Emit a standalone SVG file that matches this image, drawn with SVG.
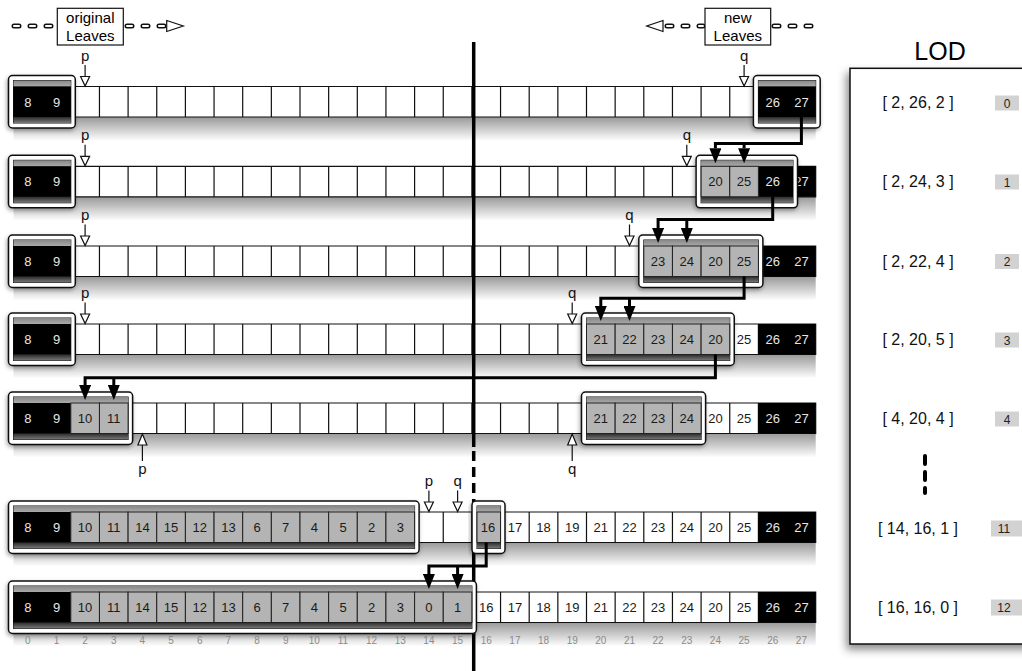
<svg xmlns="http://www.w3.org/2000/svg" width="1022" height="671" viewBox="0 0 1022 671">
<style>
text{font-family:"Liberation Sans",Arial,Helvetica,sans-serif}
.t{font-size:13px;text-anchor:middle}
.lt{fill:#e6e6e6}
.dt{fill:#1a1a1a}
.pq{font-size:15px;text-anchor:middle;fill:#111}
.bo{fill:#fff;stroke:#111;stroke-width:1.5;filter:url(#ds)}
.bi{fill:#444;stroke:#111;stroke-width:1}
.ts{fill:url(#tsg)}
.bs{fill:url(#bsg)}
.k{fill:#000}
.g{fill:#b4b4b4;stroke:#222;stroke-width:1}
.sh{fill:url(#shg)}
.mk{fill:#fff;stroke:#111;stroke-width:1.2}
.cn{fill:none;stroke:#000;stroke-width:3;marker-end:url(#ah)}
.idx{font-size:10px;text-anchor:middle;fill:#8a8a8a}
.lod{font-size:16px;text-anchor:middle;fill:#111}
.lb{fill:#d2d2d2}
.ln{font-size:12px;text-anchor:middle;fill:#222}
.dk{fill:none;stroke:#111;stroke-width:5;stroke-linecap:round;stroke-dasharray:5 11}
.dw{fill:none;stroke:#fff;stroke-width:2;stroke-linecap:round;stroke-dasharray:5 11}
</style>
<defs>
<linearGradient id="shg" x1="0" y1="0" x2="0" y2="1"><stop offset="0" stop-color="#000" stop-opacity="0.4"/><stop offset="1" stop-color="#000" stop-opacity="0"/></linearGradient>
<linearGradient id="bsg" x1="0" y1="0" x2="0" y2="1"><stop offset="0" stop-color="#2a2a2a"/><stop offset="1" stop-color="#7a7a7a"/></linearGradient>
<linearGradient id="tsg" x1="0" y1="0" x2="0" y2="1"><stop offset="0" stop-color="#888"/><stop offset="1" stop-color="#aaa"/></linearGradient>
<filter id="ds" x="-10%" y="-20%" width="120%" height="150%"><feDropShadow dx="-1" dy="2" stdDeviation="2" flood-color="#000" flood-opacity="0.35"/></filter>
<filter id="ps" x="-10%" y="-5%" width="120%" height="110%"><feDropShadow dx="-3" dy="5" stdDeviation="4" flood-color="#000" flood-opacity="0.45"/></filter>
<marker id="ah" viewBox="0 0 10 10" refX="0" refY="5" markerWidth="15" markerHeight="12" markerUnits="userSpaceOnUse" orient="auto" preserveAspectRatio="none"><path d="M0 0L10 5L0 10z" fill="#000"/></marker>
<path id="grid" d="M13.5 0H815.7V30.5H13.5Z M42.15 0v30.5M70.8 0v30.5M99.45 0v30.5M128.1 0v30.5M156.75 0v30.5M185.4 0v30.5M214.05 0v30.5M242.7 0v30.5M271.35 0v30.5M300 0v30.5M328.65 0v30.5M357.3 0v30.5M385.95 0v30.5M414.6 0v30.5M443.25 0v30.5M471.9 0v30.5M500.55 0v30.5M529.2 0v30.5M557.85 0v30.5M586.5 0v30.5M615.15 0v30.5M643.8 0v30.5M672.45 0v30.5M701.1 0v30.5M729.75 0v30.5M758.4 0v30.5M787.05 0v30.5" fill="#fff" stroke="#111" stroke-width="1.2"/>
<path id="ad" d="M0 -21.5V-10M-4.5 -10H4.5L0 -0.5Z" class="mk"/>
<path id="au" d="M0 58V42M-4.5 42H4.5L0 31Z" class="mk"/>
</defs>
<rect width="1022" height="671" fill="#fff"/>

<g id="legend-original">
<path class="dk" d="M14 26H55"/><path class="dw" d="M14 26H55"/>
<path class="dk" d="M127 26H164"/><path class="dw" d="M127 26H164"/>
<path d="M166.7 20.5L183.3 26L166.7 31.5Z" class="mk"/>
<rect x="57.3" y="8.3" width="66" height="36.7" fill="#fff" stroke="#111" stroke-width="1.2"/>
<text x="90.3" y="23" style="font-size:15px;text-anchor:middle">original</text>
<text x="90.3" y="41" style="font-size:15px;text-anchor:middle">Leaves</text>
</g>
<g id="legend-new">
<path class="dk" d="M667 26H703"/><path class="dw" d="M667 26H703"/>
<path class="dk" d="M774 26H813"/><path class="dw" d="M774 26H813"/>
<path d="M663 20.5L646.7 26L663 31.5Z" class="mk"/>
<rect x="705" y="8.3" width="65.7" height="36.7" fill="#fff" stroke="#111" stroke-width="1.2"/>
<text x="737.8" y="23" style="font-size:15px;text-anchor:middle">new</text>
<text x="737.8" y="41" style="font-size:15px;text-anchor:middle">Leaves</text>
</g>

<g id="row1" transform="translate(0,86.5)">
<rect class="sh" x="13.5" y="30.5" width="802.2" height="24"/>
<use href="#grid"/>
<g id="r1-a"><rect class="bo" x="8.5" y="-11" width="66.8" height="52.5" rx="4"/><rect class="bi" x="13.5" y="-6" width="57.3" height="42.5"/><rect class="ts" x="13.5" y="-6" width="57.3" height="6"/><rect class="bs" x="13.5" y="30.5" width="57.3" height="6"/><rect class="k" x="13.5" y="0" width="57.3" height="30.5"/><text class="t lt" x="27.8" y="20">8</text><text class="t lt" x="56.5" y="20">9</text></g>
<g id="r1-b"><rect class="bo" x="753.4" y="-11" width="66.8" height="52.5" rx="4"/><rect class="bi" x="758.4" y="-6" width="57.3" height="42.5"/><rect class="ts" x="758.4" y="-6" width="57.3" height="6"/><rect class="bs" x="758.4" y="30.5" width="57.3" height="6"/><rect class="k" x="758.4" y="0" width="57.3" height="30.5"/><text class="t lt" x="772.7" y="20">26</text><text class="t lt" x="801.4" y="20">27</text></g>
<text class="pq" x="85.1" y="-26">p</text><use href="#ad" x="85.1"/>
<text class="pq" x="744.1" y="-26">q</text><use href="#ad" x="744.1"/>
</g>

<g id="row2" transform="translate(0,166.3)">
<rect class="sh" x="13.5" y="30.5" width="802.2" height="24"/>
<use href="#grid"/>
<g id="r2-a"><rect class="bo" x="8.5" y="-11" width="66.8" height="52.5" rx="4"/><rect class="bi" x="13.5" y="-6" width="57.3" height="42.5"/><rect class="ts" x="13.5" y="-6" width="57.3" height="6"/><rect class="bs" x="13.5" y="30.5" width="57.3" height="6"/><rect class="k" x="13.5" y="0" width="57.3" height="30.5"/><text class="t lt" x="27.8" y="20">8</text><text class="t lt" x="56.5" y="20">9</text></g>
<rect class="k" x="787.05" y="0" width="28.65" height="30.5"/><text class="t lt" x="801.4" y="20">27</text>
<g id="r2-b"><rect class="bo" x="696.1" y="-11" width="101.4" height="52.5" rx="4"/><rect class="bi" x="701.1" y="-6" width="91.9" height="42.5"/><rect class="ts" x="701.1" y="-6" width="91.9" height="6"/><rect class="bs" x="701.1" y="30.5" width="91.9" height="6"/><rect class="k" x="758.4" y="0" width="34.6" height="30.5"/><rect class="g" x="701.1" y="0" width="28.65" height="30.5"/><rect class="g" x="729.75" y="0" width="28.65" height="30.5"/><text class="t dt" x="715.4" y="20">20</text><text class="t dt" x="744.1" y="20">25</text><text class="t lt" x="772.7" y="20">26</text></g>
<text class="pq" x="85.1" y="-26">p</text><use href="#ad" x="85.1"/>
<text class="pq" x="686.8" y="-26">q</text><use href="#ad" x="686.8"/>
</g>

<g id="row3" transform="translate(0,246)">
<rect class="sh" x="13.5" y="30.5" width="802.2" height="24"/>
<use href="#grid"/>
<g id="r3-a"><rect class="bo" x="8.5" y="-11" width="66.8" height="52.5" rx="4"/><rect class="bi" x="13.5" y="-6" width="57.3" height="42.5"/><rect class="ts" x="13.5" y="-6" width="57.3" height="6"/><rect class="bs" x="13.5" y="30.5" width="57.3" height="6"/><rect class="k" x="13.5" y="0" width="57.3" height="30.5"/><text class="t lt" x="27.8" y="20">8</text><text class="t lt" x="56.5" y="20">9</text></g>
<rect class="k" x="758.4" y="0" width="57.3" height="30.5"/><text class="t lt" x="772.7" y="20">26</text><text class="t lt" x="801.4" y="20">27</text>
<g id="r3-b"><rect class="bo" x="638.8" y="-11" width="124.1" height="52.5" rx="4"/><rect class="bi" x="643.8" y="-6" width="114.6" height="42.5"/><rect class="ts" x="643.8" y="-6" width="114.6" height="6"/><rect class="bs" x="643.8" y="30.5" width="114.6" height="6"/><rect class="g" x="643.8" y="0" width="28.65" height="30.5"/><rect class="g" x="672.45" y="0" width="28.65" height="30.5"/><rect class="g" x="701.1" y="0" width="28.65" height="30.5"/><rect class="g" x="729.75" y="0" width="28.65" height="30.5"/><text class="t dt" x="658.1" y="20">23</text><text class="t dt" x="686.8" y="20">24</text><text class="t dt" x="715.4" y="20">20</text><text class="t dt" x="744.1" y="20">25</text></g>
<text class="pq" x="85.1" y="-26">p</text><use href="#ad" x="85.1"/>
<text class="pq" x="629.5" y="-26">q</text><use href="#ad" x="629.5"/>
</g>

<g id="row4" transform="translate(0,324)">
<rect class="sh" x="13.5" y="30.5" width="802.2" height="24"/>
<use href="#grid"/>
<g id="r4-a"><rect class="bo" x="8.5" y="-11" width="66.8" height="52.5" rx="4"/><rect class="bi" x="13.5" y="-6" width="57.3" height="42.5"/><rect class="ts" x="13.5" y="-6" width="57.3" height="6"/><rect class="bs" x="13.5" y="30.5" width="57.3" height="6"/><rect class="k" x="13.5" y="0" width="57.3" height="30.5"/><text class="t lt" x="27.8" y="20">8</text><text class="t lt" x="56.5" y="20">9</text></g>
<text class="t dt" x="744.1" y="20">25</text>
<rect class="k" x="758.4" y="0" width="57.3" height="30.5"/><text class="t lt" x="772.7" y="20">26</text><text class="t lt" x="801.4" y="20">27</text>
<g id="r4-b"><rect class="bo" x="581.5" y="-11" width="152.75" height="52.5" rx="4"/><rect class="bi" x="586.5" y="-6" width="143.25" height="42.5"/><rect class="ts" x="586.5" y="-6" width="143.25" height="6"/><rect class="bs" x="586.5" y="30.5" width="143.25" height="6"/><rect class="g" x="586.5" y="0" width="28.65" height="30.5"/><rect class="g" x="615.15" y="0" width="28.65" height="30.5"/><rect class="g" x="643.8" y="0" width="28.65" height="30.5"/><rect class="g" x="672.45" y="0" width="28.65" height="30.5"/><rect class="g" x="701.1" y="0" width="28.65" height="30.5"/><text class="t dt" x="600.8" y="20">21</text><text class="t dt" x="629.5" y="20">22</text><text class="t dt" x="658.1" y="20">23</text><text class="t dt" x="686.8" y="20">24</text><text class="t dt" x="715.4" y="20">20</text></g>
<text class="pq" x="85.1" y="-26">p</text><use href="#ad" x="85.1"/>
<text class="pq" x="572.2" y="-26">q</text><use href="#ad" x="572.2"/>
</g>

<g id="row5" transform="translate(0,403)">
<rect class="sh" x="13.5" y="30.5" width="802.2" height="24"/>
<use href="#grid"/>
<g id="r5-a"><rect class="bo" x="8.5" y="-11" width="124.1" height="52.5" rx="4"/><rect class="bi" x="13.5" y="-6" width="114.6" height="42.5"/><rect class="ts" x="13.5" y="-6" width="114.6" height="6"/><rect class="bs" x="13.5" y="30.5" width="114.6" height="6"/><rect class="k" x="13.5" y="0" width="57.3" height="30.5"/><rect class="g" x="70.8" y="0" width="28.65" height="30.5"/><rect class="g" x="99.45" y="0" width="28.65" height="30.5"/><text class="t lt" x="27.8" y="20">8</text><text class="t lt" x="56.5" y="20">9</text><text class="t dt" x="85.1" y="20">10</text><text class="t dt" x="113.8" y="20">11</text></g>
<text class="t dt" x="715.4" y="20">20</text><text class="t dt" x="744.1" y="20">25</text>
<rect class="k" x="758.4" y="0" width="57.3" height="30.5"/><text class="t lt" x="772.7" y="20">26</text><text class="t lt" x="801.4" y="20">27</text>
<g id="r5-b"><rect class="bo" x="581.5" y="-11" width="124.1" height="52.5" rx="4"/><rect class="bi" x="586.5" y="-6" width="114.6" height="42.5"/><rect class="ts" x="586.5" y="-6" width="114.6" height="6"/><rect class="bs" x="586.5" y="30.5" width="114.6" height="6"/><rect class="g" x="586.5" y="0" width="28.65" height="30.5"/><rect class="g" x="615.15" y="0" width="28.65" height="30.5"/><rect class="g" x="643.8" y="0" width="28.65" height="30.5"/><rect class="g" x="672.45" y="0" width="28.65" height="30.5"/><text class="t dt" x="600.8" y="20">21</text><text class="t dt" x="629.5" y="20">22</text><text class="t dt" x="658.1" y="20">23</text><text class="t dt" x="686.8" y="20">24</text></g>
<use href="#au" x="142.4"/><text class="pq" x="142.4" y="71">p</text>
<use href="#au" x="572.2"/><text class="pq" x="572.2" y="71">q</text>
</g>

<g id="divider">
<path d="M473.7 42V447" stroke="#000" stroke-width="3.5" fill="none"/>
<path d="M473.7 451V500" stroke="#000" stroke-width="3.5" fill="none" stroke-dasharray="10 6"/>
<path d="M473.7 500V671" stroke="#000" stroke-width="3.5" fill="none"/>
</g>

<g id="row6" transform="translate(0,512)">
<rect class="sh" x="13.5" y="30.5" width="802.2" height="24"/>
<use href="#grid"/>
<g class="t dt"><text x="514.9" y="20">17</text><text x="543.5" y="20">18</text><text x="572.2" y="20">19</text><text x="600.8" y="20">21</text><text x="629.5" y="20">22</text><text x="658.1" y="20">23</text><text x="686.8" y="20">24</text><text x="715.4" y="20">20</text><text x="744.1" y="20">25</text></g>
<rect class="k" x="758.4" y="0" width="57.3" height="30.5"/><text class="t lt" x="772.7" y="20">26</text><text class="t lt" x="801.4" y="20">27</text>
<g id="r6-a"><rect class="bo" x="8.5" y="-11" width="410.6" height="52.5" rx="4"/><rect class="bi" x="13.5" y="-6" width="401.1" height="42.5"/><rect class="ts" x="13.5" y="-6" width="401.1" height="6"/><rect class="bs" x="13.5" y="30.5" width="401.1" height="6"/><rect class="k" x="13.5" y="0" width="57.3" height="30.5"/>
<rect class="g" x="70.8" y="0" width="28.65" height="30.5"/><rect class="g" x="99.45" y="0" width="28.65" height="30.5"/><rect class="g" x="128.1" y="0" width="28.65" height="30.5"/><rect class="g" x="156.75" y="0" width="28.65" height="30.5"/><rect class="g" x="185.4" y="0" width="28.65" height="30.5"/><rect class="g" x="214.05" y="0" width="28.65" height="30.5"/><rect class="g" x="242.7" y="0" width="28.65" height="30.5"/><rect class="g" x="271.35" y="0" width="28.65" height="30.5"/><rect class="g" x="300" y="0" width="28.65" height="30.5"/><rect class="g" x="328.65" y="0" width="28.65" height="30.5"/><rect class="g" x="357.3" y="0" width="28.65" height="30.5"/><rect class="g" x="385.95" y="0" width="28.65" height="30.5"/>
<text class="t lt" x="27.8" y="20">8</text><text class="t lt" x="56.5" y="20">9</text>
<g class="t dt"><text x="85.1" y="20">10</text><text x="113.8" y="20">11</text><text x="142.4" y="20">14</text><text x="171.1" y="20">15</text><text x="199.7" y="20">12</text><text x="228.4" y="20">13</text><text x="257" y="20">6</text><text x="285.7" y="20">7</text><text x="314.3" y="20">4</text><text x="343" y="20">5</text><text x="371.6" y="20">2</text><text x="400.3" y="20">3</text></g></g>
<g id="r6-b"><rect class="bo" x="472" y="-11" width="33" height="52.5" rx="4"/><rect class="bi" x="477" y="-6" width="23.55" height="42.5"/><rect class="ts" x="477" y="-6" width="23.55" height="6"/><rect class="bs" x="477" y="30.5" width="23.55" height="6"/><rect class="g" x="477" y="0" width="23.55" height="30.5"/><text class="t dt" x="488" y="20">16</text></g>
<text class="pq" x="428.9" y="-26">p</text><use href="#ad" x="428.9"/>
<text class="pq" x="457.6" y="-26">q</text><use href="#ad" x="457.6"/>
</g>

<g id="row7" transform="translate(0,592)">
<rect class="sh" x="13.5" y="30.5" width="802.2" height="24"/>
<use href="#grid"/>
<g class="t dt"><text x="486.2" y="20">16</text><text x="514.9" y="20">17</text><text x="543.5" y="20">18</text><text x="572.2" y="20">19</text><text x="600.8" y="20">21</text><text x="629.5" y="20">22</text><text x="658.1" y="20">23</text><text x="686.8" y="20">24</text><text x="715.4" y="20">20</text><text x="744.1" y="20">25</text></g>
<rect class="k" x="758.4" y="0" width="57.3" height="30.5"/><text class="t lt" x="772.7" y="20">26</text><text class="t lt" x="801.4" y="20">27</text>
<g id="r7-a"><rect class="bo" x="8.5" y="-11" width="467.9" height="52.5" rx="4"/><rect class="bi" x="13.5" y="-6" width="458.4" height="42.5"/><rect class="ts" x="13.5" y="-6" width="458.4" height="6"/><rect class="bs" x="13.5" y="30.5" width="458.4" height="6"/><rect class="k" x="13.5" y="0" width="57.3" height="30.5"/>
<rect class="g" x="70.8" y="0" width="28.65" height="30.5"/><rect class="g" x="99.45" y="0" width="28.65" height="30.5"/><rect class="g" x="128.1" y="0" width="28.65" height="30.5"/><rect class="g" x="156.75" y="0" width="28.65" height="30.5"/><rect class="g" x="185.4" y="0" width="28.65" height="30.5"/><rect class="g" x="214.05" y="0" width="28.65" height="30.5"/><rect class="g" x="242.7" y="0" width="28.65" height="30.5"/><rect class="g" x="271.35" y="0" width="28.65" height="30.5"/><rect class="g" x="300" y="0" width="28.65" height="30.5"/><rect class="g" x="328.65" y="0" width="28.65" height="30.5"/><rect class="g" x="357.3" y="0" width="28.65" height="30.5"/><rect class="g" x="385.95" y="0" width="28.65" height="30.5"/><rect class="g" x="414.6" y="0" width="28.65" height="30.5"/><rect class="g" x="443.25" y="0" width="28.65" height="30.5"/>
<text class="t lt" x="27.8" y="20">8</text><text class="t lt" x="56.5" y="20">9</text>
<g class="t dt"><text x="85.1" y="20">10</text><text x="113.8" y="20">11</text><text x="142.4" y="20">14</text><text x="171.1" y="20">15</text><text x="199.7" y="20">12</text><text x="228.4" y="20">13</text><text x="257" y="20">6</text><text x="285.7" y="20">7</text><text x="314.3" y="20">4</text><text x="343" y="20">5</text><text x="371.6" y="20">2</text><text x="400.3" y="20">3</text><text x="428.9" y="20">0</text><text x="457.6" y="20">1</text></g></g>
</g>

<g id="index-labels" class="idx">
<text x="27.8" y="644">0</text><text x="56.5" y="644">1</text><text x="85.1" y="644">2</text><text x="113.8" y="644">3</text><text x="142.4" y="644">4</text><text x="171.1" y="644">5</text><text x="199.7" y="644">6</text><text x="228.4" y="644">7</text><text x="257" y="644">8</text><text x="285.7" y="644">9</text><text x="314.3" y="644">10</text><text x="343" y="644">11</text><text x="371.6" y="644">12</text><text x="400.3" y="644">13</text><text x="428.9" y="644">14</text><text x="457.6" y="644">15</text><text x="486.2" y="644">16</text><text x="514.9" y="644">17</text><text x="543.5" y="644">18</text><text x="572.2" y="644">19</text><text x="600.8" y="644">20</text><text x="629.5" y="644">21</text><text x="658.1" y="644">22</text><text x="686.8" y="644">23</text><text x="715.4" y="644">24</text><text x="744.1" y="644">25</text><text x="772.7" y="644">26</text><text x="801.4" y="644">27</text>
</g>

<g id="connectors">
<path class="cn" d="M801.4 117V143.5H715.4V148.3"/><path class="cn" d="M744.1 143.5V148.3"/>
<path class="cn" d="M772.7 196.8V219.5H658.1V228"/><path class="cn" d="M686.8 219.5V228"/>
<path class="cn" d="M744.1 276.5V298.3H600.8V306"/><path class="cn" d="M629.5 298.3V306"/>
<path class="cn" d="M715.4 354.5V377.7H85.1V385"/><path class="cn" d="M113.8 377.7V385"/>
<path class="cn" d="M486.2 542.5V566H428.9V574"/><path class="cn" d="M457.6 566V574"/>
</g>

<g id="lod">
<text x="940" y="60" style="font-size:25px;text-anchor:middle">LOD</text>
<rect x="850" y="68.3" width="190" height="575.7" fill="#fff" stroke="#111" stroke-width="1.5" filter="url(#ps)"/>
<text class="lod" x="918" y="107.5">[ 2, 26, 2 ]</text><rect class="lb" x="995" y="95.5" width="24" height="15"/><text class="ln" x="1007" y="107.5">0</text>
<text class="lod" x="918" y="187">[ 2, 24, 3 ]</text><rect class="lb" x="995" y="174.5" width="24" height="15"/><text class="ln" x="1007" y="186.5">1</text>
<text class="lod" x="918" y="266.5">[ 2, 22, 4 ]</text><rect class="lb" x="995" y="254" width="24" height="15"/><text class="ln" x="1007" y="266">2</text>
<text class="lod" x="918" y="345">[ 2, 20, 5 ]</text><rect class="lb" x="995" y="332.5" width="24" height="15"/><text class="ln" x="1007" y="344.5">3</text>
<text class="lod" x="918" y="424">[ 4, 20, 4 ]</text><rect class="lb" x="995" y="411.5" width="24" height="15"/><text class="ln" x="1007" y="423.5">4</text>
<path d="M925 456V493" stroke="#000" stroke-width="4" stroke-linecap="round" stroke-dasharray="8 8" fill="none"/>
<text class="lod" x="918" y="533.5">[ 14, 16, 1 ]</text><rect class="lb" x="991" y="520.5" width="31" height="16"/><text class="ln" x="1004" y="533">11</text>
<text class="lod" x="918" y="612.5">[ 16, 16, 0 ]</text><rect class="lb" x="991" y="599.5" width="31" height="16"/><text class="ln" x="1004" y="612">12</text>
</g>
</svg>
